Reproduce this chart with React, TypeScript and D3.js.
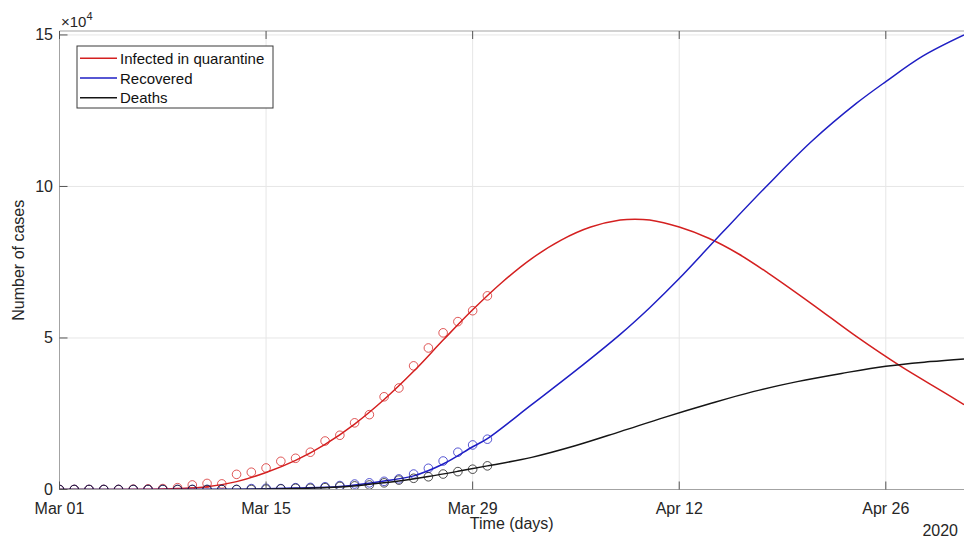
import React from 'react'
import * as d3 from 'd3'

// observed days, counted from Mar 01
const obsDays = [0, 1, 2, 3, 4, 5, 6, 7, 8, 9, 10, 11, 12, 13, 14, 15, 16, 17, 18, 19, 20, 21, 22, 23, 24, 25, 26, 27, 28, 29]

// observed cases (circles)
const infectedObs = [0, 0, 0, 0, 0, 100, 200, 300, 600, 1500, 2000, 1850, 5000, 5700, 7100, 9300, 10300, 12300, 16000, 17900, 22000, 24700, 30600, 33500, 40800, 46700, 51700, 55400, 59000, 63900]
const recoveredObs = [0, 0, 0, 0, 0, 0, 0, 0, 0, 0, 0, 0, 0, 300, 400, 300, 600, 700, 900, 1300, 1800, 2200, 2700, 3500, 5100, 7000, 9400, 12300, 14700, 16600]
const deathsObs = [0, 0, 0, 0, 0, 0, 0, 0, 0, 0, 0, 0, 0, 0, 100, 200, 400, 400, 600, 1000, 1200, 1500, 2200, 3100, 3700, 4200, 5100, 5900, 6700, 7800]

// fitted model curves (days from Mar 01, cases)
const infectedFitDays = [0, 6, 8, 10, 12, 14, 16, 18, 20, 22, 24, 26, 28, 30, 32, 34, 36, 38, 39, 40, 42, 44, 46, 48, 51, 54, 57, 60, 61.3]
const infectedFit = [0, 100, 300, 900, 2600, 5600, 9600, 14900, 21600, 29700, 39000, 49300, 59300, 68400, 76200, 82300, 86600, 88900, 89200, 88900, 86600, 82900, 77800, 71500, 61200, 50500, 40700, 31900, 28000]
const recoveredFitDays = [0, 8, 12, 16, 19, 22, 24, 26, 28, 29, 32, 35, 38, 40, 42, 45, 48, 51, 54, 56, 58.5, 61.3]
const recoveredFit = [0, 0, 100, 500, 1000, 2800, 4500, 8400, 14100, 16800, 28000, 39300, 51200, 60000, 69600, 85200, 100500, 115000, 127400, 134600, 143000, 150000]
const deathsFitDays = [0, 12, 16, 19, 21, 23, 25, 27, 29, 32, 35, 38, 41, 44, 47, 50, 53, 56, 59, 61.3]
const deathsFit = [0, 0, 300, 800, 1700, 2800, 4300, 6000, 7800, 10600, 14500, 19100, 23800, 28200, 32300, 35600, 38300, 40700, 42200, 43100]

const xTickDays = [0, 14, 28, 42, 56]
const xTickLabels = ['Mar 01', 'Mar 15', 'Mar 29', 'Apr 12', 'Apr 26']
const yTickValues = [0, 50000, 100000, 150000]
const yTickLabels = ['0', '5', '10', '15']

const seriesNames = ['Infected in quarantine', 'Recovered', 'Deaths']
const seriesColors = ['#d42020', '#1f1fc4', '#151515']

const FONT = '"Liberation Sans", Arial, Helvetica, sans-serif'
const TEXT = '#262626'

/**
 * Series draws the observed circles and the fitted line of one group.
 */
class Series extends React.Component<any> {
  render () {
    const { xScale, yScale, obs, fitDays, fit, color } = this.props

    const line = d3.line<number>()
      .curve(d3.curveCatmullRom.alpha(0.5))
      .x((d, i) => xScale(fitDays[i]))
      .y((d) => yScale(d))

    const circles = obs.map((v, i) => (
      <circle
        key={i}
        cx={xScale(obsDays[i])}
        cy={yScale(v)}
        r={4.3}
        fill='none'
        stroke={color}
        strokeOpacity={0.75}
        strokeWidth={1}
      />
    ))

    return (
      <g>
        <g>{circles}</g>
        <path d={line(fit) || ''} fill='none' stroke={color} strokeWidth={1.5} />
      </g>
    )
  }
}

/**
 * Legend box in the upper left corner of the axes.
 */
class Legend extends React.Component<any> {
  render () {
    const { x, y } = this.props
    const rowH = 19.7
    return (
      <g transform={`translate(${x},${y})`}>
        <rect x={0} y={0} width={196} height={62} fill='#fff' stroke='#3a3a3a' strokeWidth={1} />
        {seriesNames.map((name, i) => (
          <g key={name} transform={`translate(0,${12.3 + i * rowH})`}>
            <line x1={3} x2={40} y1={0} y2={0} stroke={seriesColors[i]} strokeWidth={1.5} />
            <text x={43} y={0} dominantBaseline='central' fontSize={15} fill='#111' fontFamily={FONT}>{name}</text>
          </g>
        ))}
      </g>
    )
  }
}

export default class App extends React.Component {
  render () {
    const width = 964
    const height = 543
    const left = 59.5
    const right = 964
    const top = 31
    const bottom = 489.5

    const xScale = d3.scaleLinear().domain([0, 61.3]).range([left, right])
    const yScale = d3.scaleLinear().domain([0, 151300]).range([bottom, top])

    const groups = [
      { obs: infectedObs, fitDays: infectedFitDays, fit: infectedFit },
      { obs: recoveredObs, fitDays: recoveredFitDays, fit: recoveredFit },
      { obs: deathsObs, fitDays: deathsFitDays, fit: deathsFit }
    ]

    return (
      <svg width={width} height={height} style={{ position: 'absolute', left: 0, top: 0, background: '#fff' }}>
        <defs>
          <clipPath id='plotArea'>
            <rect x={left} y={top} width={right - left} height={bottom - top} />
          </clipPath>
        </defs>

        {/* grid */}
        <g stroke='#e6e6e6' strokeWidth={1}>
          {xTickDays.map((d) => (
            <line key={'gx' + d} x1={xScale(d)} x2={xScale(d)} y1={top} y2={bottom} />
          ))}
          {yTickValues.map((v) => (
            <line key={'gy' + v} x1={left} x2={right} y1={yScale(v)} y2={yScale(v)} />
          ))}
        </g>

        {/* data */}
        <g clipPath='url(#plotArea)'>
          {groups.map((g, i) => (
            <Series key={i} xScale={xScale} yScale={yScale} color={seriesColors[i]} {...g} />
          ))}
        </g>

        {/* axes box */}
        <g stroke='#a3a3a3' strokeWidth={1}>
          <line x1={left} x2={left} y1={top} y2={bottom} />
          <line x1={left} x2={right} y1={bottom} y2={bottom} />
          <line x1={left} x2={right} y1={top} y2={top} />
        </g>
        <g stroke='#555' strokeWidth={1}>
          {xTickDays.map((d) => (
            <g key={'tx' + d}>
              <line x1={xScale(d)} x2={xScale(d)} y1={bottom} y2={bottom - 8} />
              <line x1={xScale(d)} x2={xScale(d)} y1={top} y2={top + 8} />
            </g>
          ))}
          {yTickValues.map((v) => (
            <line key={'ty' + v} x1={left} x2={left + 8} y1={yScale(v)} y2={yScale(v)} />
          ))}
        </g>

        {/* tick labels */}
        <g fontFamily={FONT} fontSize={16} fill={TEXT}>
          {xTickDays.map((d, i) => (
            <text key={'lx' + d} x={xScale(d)} y={513.5} textAnchor='middle'>{xTickLabels[i]}</text>
          ))}
          {yTickValues.map((v, i) => (
            <text key={'ly' + v} x={53} y={yScale(v)} textAnchor='end' dominantBaseline='central'>{yTickLabels[i]}</text>
          ))}
          <text x={958} y={536} textAnchor='end'>2020</text>
          <text x={61} y={27} fontSize={15}>
            ×10<tspan dy={-7} fontSize={11}>4</tspan>
          </text>
        </g>

        {/* axis titles */}
        <g fontFamily={FONT} fontSize={16} fill={TEXT}>
          <text x={(left + right) / 2} y={529} textAnchor='middle'>Time (days)</text>
          <text transform={`translate(18,${(top + bottom) / 2}) rotate(-90)`} textAnchor='middle' dominantBaseline='central'>Number of cases</text>
        </g>

        <Legend x={77} y={46} />
      </svg>
    )
  }
}
